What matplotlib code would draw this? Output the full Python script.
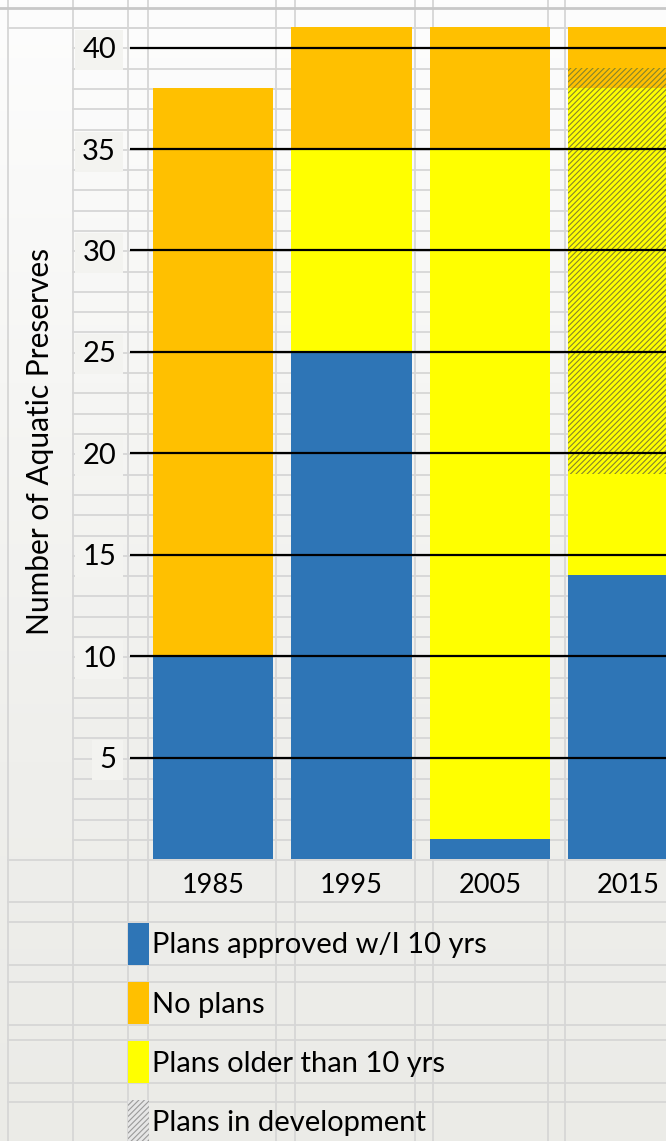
import numpy as np
import matplotlib
matplotlib.use("Agg")
import matplotlib.pyplot as plt
from matplotlib.patches import Patch

# data
years = ["1985", "1995", "2005", "2015"]
approved = [10, 25, 1, 14]
older = [0, 10, 34, 24]
no_plans = [28, 6, 6, 3]
# part of the 2015 bar that is overlaid with the "in development" pattern
dev_start = [0, 0, 0, 19]
dev_count = [0, 0, 0, 20]
yticks = [5, 10, 15, 20, 25, 30, 35, 40]

c_blue = "#2e75b6"
c_orange = "#ffc000"
c_yellow = "#ffff00"
bg = "#f3f3f0"
grid_grey = "#d6d6d6"

plt.rcParams["font.family"] = ["Lato", "DejaVu Sans"]
plt.rcParams["hatch.linewidth"] = 0.8

W, H = 666, 1141
fig = plt.figure(figsize=(W / 100, H / 100), dpi=100)

# background: faded sheet with spreadsheet grid
bgax = fig.add_axes([0, 0, 1, 1], zorder=-10)
grad = np.linspace(0, 1, 256).reshape(-1, 1)
bgax.imshow(grad, cmap=matplotlib.colors.LinearSegmentedColormap.from_list(
    "bg", ["#fdfdfd", "#f6f6f4", "#efefec", "#ebebe7"]),
    extent=[0, W, H, 0], aspect="auto")
for xv in [8, 73, 128, 148, 276, 295, 415, 433, 548, 565]:
    bgax.axvline(xv, color=grid_grey, lw=1.3)
# sheet rows inside the chart area (not in the merged label column)
for yv in np.arange(28, 860, 20.3):
    bgax.plot([73, W], [yv, yv], color=grid_grey, lw=1.3)
# rows below the chart
for yv in [28, 860, 902, 922, 965, 982, 1025, 1040, 1083, 1102]:
    bgax.plot([8, W], [yv, yv], color=grid_grey, lw=1.3)
bgax.axhline(8, color="#c8c8c8", lw=2)
bgax.set_xlim(0, W)
bgax.set_ylim(H, 0)
bgax.axis("off")

# main chart axes
ax = fig.add_axes([130 / W, (H - 859) / H, 1 - 130 / W, 859 / H])
ax.patch.set_alpha(0)
x = np.arange(len(years))
width = 0.87

bottom = np.zeros(len(years))
ax.bar(x, approved, width, bottom=bottom, color=c_blue, zorder=1)
bottom += approved
ax.bar(x, older, width, bottom=bottom, color=c_yellow, zorder=1)
bottom += older
ax.bar(x, no_plans, width, bottom=bottom, color=c_orange, zorder=1)
ax.bar(x, dev_count, width, bottom=dev_start, facecolor="none",
       edgecolor="#86842c", hatch="//////", linewidth=0, zorder=1.5)

ax.set_xlim(-0.6, 3.27)
ax.set_ylim(0, 42.35)
ax.set_yticks(yticks)
ax.set_yticklabels([str(t) for t in yticks], fontsize=21)
ax.set_xticks(x)
ax.set_xticklabels(years, fontsize=19.5)
ax.tick_params(axis="y", length=0, pad=10)
ax.tick_params(axis="x", length=0, pad=10)
for lbl in ax.get_yticklabels():
    lbl.set_bbox(dict(facecolor=bg, edgecolor="none", pad=5))
ax.grid(axis="y", color="black", lw=1.6)
ax.set_axisbelow(False)
for s in ax.spines.values():
    s.set_visible(False)

fig.text(40 / W, 1 - 442 / H, "Number of Aquatic Preserves", rotation=90,
         fontsize=21.5, ha="center", va="center")

handles = [
    Patch(facecolor=c_blue, label="Plans approved w/I 10 yrs"),
    Patch(facecolor=c_orange, label="No plans"),
    Patch(facecolor=c_yellow, label="Plans older than 10 yrs"),
    Patch(facecolor="#e6e6e6", edgecolor="#9a9a9a", hatch="//////", lw=0,
          label="Plans in development"),
]
fig.legend(handles=handles, loc="upper left",
           bbox_to_anchor=(128 / W, 1 - 923 / H), frameon=False,
           fontsize=21, handlelength=0.72, handleheight=1.85,
           handletextpad=0.12, labelspacing=0.58, borderpad=0,
           borderaxespad=0)

fig.savefig("out.png", dpi=100)
